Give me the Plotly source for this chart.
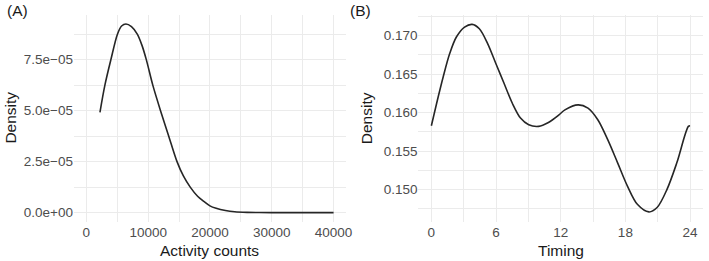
import plotly.graph_objects as go
from plotly.subplots import make_subplots

# Panel A: activity counts density
activity_x = [2200, 3000, 3970, 5030, 5700, 6400, 7300, 8240, 9000, 9700, 10750, 12000,
              13330, 14670, 15700, 16810, 18000, 19000, 20000, 21000, 22500, 24000,
              26000, 28000, 30000, 35000, 40000]
activity_density = [4.92e-5, 6.25e-5, 7.5e-5, 8.75e-5, 9.15e-5, 9.25e-5, 9.12e-5, 8.75e-5,
                    8.2e-5, 7.5e-5, 6.25e-5, 5.0e-5, 3.75e-5, 2.5e-5, 1.8e-5, 1.25e-5,
                    0.8e-5, 0.55e-5, 0.33e-5, 0.21e-5, 0.1e-5, 0.04e-5, 0.012e-5,
                    0.004e-5, 0.001e-5, 0.0, 0.0]
a_xticks = [0, 10000, 20000, 30000, 40000]
a_xticklabels = ["0", "10000", "20000", "30000", "40000"]
a_yticks = [0, 2.5e-5, 5.0e-5, 7.5e-5]
a_yticklabels = ["0.0e+00", "2.5e\u221205", "5.0e\u221205", "7.5e\u221205"]

# Panel B: timing density
timing_x = [0, 0.49, 1.1, 1.7, 2.32, 3.08, 3.78, 4.45, 5.22, 5.98, 6.74, 7.51, 8.27,
            9.03, 9.95, 10.86, 11.84, 12.39, 13.61, 14.53, 15.44, 16.36, 17.28, 18.19,
            19.11, 20.18, 20.94, 21.86, 22.77, 23.84, 24]
timing_density = [0.15828, 0.16121, 0.16465, 0.16767, 0.16982, 0.17111, 0.17146, 0.1709,
                  0.16897, 0.16638, 0.1638, 0.16121, 0.15928, 0.15841, 0.1582, 0.15871,
                  0.1597, 0.16035, 0.161, 0.16057, 0.15906, 0.15647, 0.15346, 0.15044,
                  0.14807, 0.14708, 0.14765, 0.15001, 0.15346, 0.1582, 0.15828]
b_xticks = [0, 6, 12, 18, 24]
b_yticks = [0.150, 0.155, 0.160, 0.165, 0.170]
b_yticklabels = ["0.150", "0.155", "0.160", "0.165", "0.170"]

FONT = "Liberation Sans, Arial, Helvetica, sans-serif"
GRID = "#ebebeb"
TICKC = "#4d4d4d"

fig = make_subplots(rows=1, cols=2, horizontal_spacing=0.1)
line = dict(color="#262626", width=1.6, shape="spline", smoothing=0.9)
fig.add_trace(go.Scatter(x=activity_x, y=activity_density, mode="lines", line=line,
                         showlegend=False), row=1, col=1)
fig.add_trace(go.Scatter(x=timing_x, y=timing_density, mode="lines", line=line,
                         showlegend=False), row=1, col=2)

common = dict(showline=False, zeroline=False, showgrid=True, gridcolor=GRID, gridwidth=1,
              ticks="", tickfont=dict(family=FONT, size=13.5, color=TICKC))

fig.update_xaxes(**common)
fig.update_yaxes(**common)

fig.update_xaxes(domain=[0.0, 0.4323], range=[-2000, 42000], tickvals=a_xticks,
                 ticktext=a_xticklabels,
                 minor=dict(tickvals=[5000, 15000, 25000, 35000], showgrid=True,
                            gridcolor=GRID, gridwidth=0.6),
                 row=1, col=1)
fig.update_yaxes(range=[-4.6e-6, 9.69e-5], tickvals=a_yticks, ticktext=a_yticklabels,
                 minor=dict(tickvals=[1.25e-5, 3.75e-5, 6.25e-5, 8.75e-5], showgrid=True,
                            gridcolor=GRID, gridwidth=0.6),
                 row=1, col=1)
fig.update_xaxes(domain=[0.5476, 1.0], range=[-1.2, 25.2], tickvals=b_xticks,
                 minor=dict(tickvals=[3, 9, 15, 21], showgrid=True,
                            gridcolor=GRID, gridwidth=0.6),
                 row=1, col=2)
fig.update_yaxes(range=[0.14577, 0.17268], tickvals=b_yticks, ticktext=b_yticklabels,
                 minor=dict(tickvals=[0.1475, 0.1525, 0.1575, 0.1625, 0.1675, 0.1725],
                            showgrid=True, gridcolor=GRID, gridwidth=0.6),
                 row=1, col=2)

W, H = 709, 261
ML, MR, MT, MB = 74, 0, 15, 39
pw = W - ML - MR
ph = H - MT - MB

def px_to_paper_x(px):
    return (px - ML) / pw

def px_to_paper_y(py):
    return (H - MB - py) / ph

title_font = dict(family=FONT, size=15.5, color="#1a1a1a")
annotations = [
    dict(text="Activity counts", x=px_to_paper_x(211), y=px_to_paper_y(250)),
    dict(text="Timing", x=px_to_paper_x(566), y=px_to_paper_y(250)),
    dict(text="Density", x=px_to_paper_x(9), y=px_to_paper_y(118), textangle=-90),
    dict(text="Density", x=px_to_paper_x(369), y=px_to_paper_y(118), textangle=-90),
    dict(text="(A)", x=px_to_paper_x(17), y=px_to_paper_y(11)),
    dict(text="(B)", x=px_to_paper_x(363), y=px_to_paper_y(11)),
]
for a in annotations:
    a.update(xref="paper", yref="paper", showarrow=False, font=title_font,
             xanchor="center", yanchor="middle")

fig.update_layout(width=W, height=H, margin=dict(l=ML, r=MR, t=MT, b=MB),
                  plot_bgcolor="white", paper_bgcolor="white",
                  annotations=annotations)

fig.write_html("out.html", config={"displayModeBar": False},
               post_script="document.body.style.margin='0px';document.body.style.padding='0px';")
